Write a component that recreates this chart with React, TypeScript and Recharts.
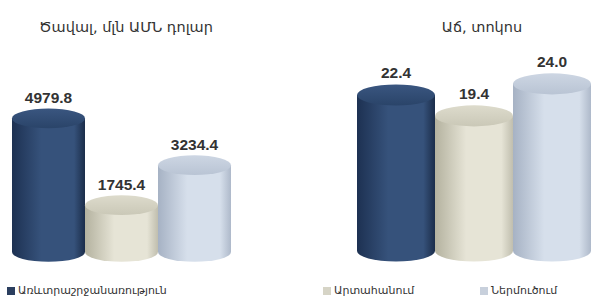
import React from 'react';
import { BarChart, Bar, XAxis, YAxis, LabelList } from 'recharts';

const seriesNames = ['Առևտրաշրջանառություն', 'Արտահանում', 'Ներմուծում'];
const seriesKeys = ['trade', 'export', 'import'];
const volumeValues = [4979.8, 1745.4, 3234.4];
const growthValues = [22.4, 19.4, 24.0];
const chartTitles = ['Ծավալ, մլն ԱՄՆ դոլար', 'Աճ, տոկոս'];

const palettes = [
  { edgeL: '#1d3152', mid: '#36527b', edgeR: '#1b2d4a', top: '#2a4469', topHi: '#3a5680', legend: '#2b3f5f' },
  { edgeL: '#b4b29f', mid: '#e6e4d6', edgeR: '#c0beae', top: '#cac8b7', topHi: '#dddbcc', legend: '#d6d4c6' },
  { edgeL: '#a6b2c4', mid: '#d6dfeb', edgeR: '#aeb9ca', top: '#b9c4d4', topHi: '#cdd6e3', legend: '#c8d0dc' },
];

const buildRow = (vals: number[]) => {
  const row: Record<string, any> = { name: 'x' };
  seriesKeys.forEach((k, i) => (row[k] = vals[i]));
  return row;
};
const volumeData = [buildRow(volumeValues)];
const growthData = [buildRow(growthValues)];

const FONT_ARM = '"DejaVu Sans", sans-serif';

const makeCylinder = (idx: number, uid: string) => (props: any) => {
  const { x, y, width, height } = props;
  if (width == null || height == null) return null;
  const p = palettes[idx];
  const ry = width * 0.135;
  const cx = x + width / 2;
  const gid = `body-${uid}-${idx}`;
  const tid = `top-${uid}-${idx}`;
  return (
    <g>
      <defs>
        <linearGradient id={gid} x1="0" y1="0" x2="1" y2="0">
          <stop offset="0%" stopColor={p.edgeL} />
          <stop offset="40%" stopColor={p.mid} />
          <stop offset="85%" stopColor={p.mid} />
          <stop offset="100%" stopColor={p.edgeR} />
        </linearGradient>
        <linearGradient id={tid} x1="0" y1="0" x2="0" y2="1">
          <stop offset="0%" stopColor={p.topHi} />
          <stop offset="100%" stopColor={p.top} />
        </linearGradient>
      </defs>
      <path
        d={`M${x},${y} L${x},${y + height} A${width / 2},${ry} 0 0 0 ${x + width},${y + height} L${x + width},${y} Z`}
        fill={`url(#${gid})`}
      />
      <ellipse cx={cx} cy={y} rx={width / 2} ry={ry} fill={`url(#${tid})`} />
    </g>
  );
};

const makeLabel = (offset: number) => (props: any) => {
  const { x, y, width, value } = props;
  return (
    <text
      x={x + width / 2}
      y={y - offset}
      textAnchor="middle"
      fill="#333"
      fontSize={15.5}
      fontWeight="bold"
      fontFamily='"Liberation Sans", Arial, sans-serif'
    >
      {Number(value).toFixed(1)}
    </text>
  );
};

const Title = ({ text, cx }: { text: string; cx: number }) => (
  <div
    style={{
      position: 'absolute',
      left: cx - 150,
      width: 300,
      top: 19,
      textAlign: 'center',
      fontFamily: FONT_ARM,
      fontSize: 14.5,
      color: '#333',
      whiteSpace: 'nowrap',
    }}
  >
    {text}
  </div>
);

const legendX = [7, 323, 480];

export default function App() {
  return (
    <div style={{ position: 'absolute', left: 0, top: 0, width: 608, height: 303, background: '#fff', overflow: 'hidden' }}>
      <Title text={chartTitles[0]} cx={126} />
      <Title text={chartTitles[1]} cx={482} />
      <div style={{ position: 'absolute', left: 0, top: 0 }}>
        <BarChart
          width={304}
          height={303}
          data={volumeData}
          margin={{ top: 91, right: 74, bottom: 51, left: 12 }}
          barCategoryGap={0}
          barGap={0}
        >
          <XAxis dataKey="name" hide />
          <YAxis hide domain={[0, 6000]} />
          {seriesKeys.map((k, i) => (
            <Bar key={k} dataKey={k} name={seriesNames[i]} isAnimationActive={false} shape={makeCylinder(i, 'v')}>
              <LabelList dataKey={k} content={makeLabel(15)} />
            </Bar>
          ))}
        </BarChart>
      </div>
      <div style={{ position: 'absolute', left: 304, top: 0 }}>
        <BarChart
          width={304}
          height={303}
          data={growthData}
          margin={{ top: 56, right: 16, bottom: 52, left: 53 }}
          barCategoryGap={0}
          barGap={0}
        >
          <XAxis dataKey="name" hide />
          <YAxis hide domain={[0, 28]} />
          {seriesKeys.map((k, i) => (
            <Bar key={k} dataKey={k} name={seriesNames[i]} isAnimationActive={false} shape={makeCylinder(i, 'g')}>
              <LabelList dataKey={k} content={makeLabel(17)} />
            </Bar>
          ))}
        </BarChart>
      </div>
      {seriesNames.map((n, i) => (
        <div
          key={n}
          style={{
            position: 'absolute',
            left: legendX[i],
            top: 284,
            display: 'flex',
            alignItems: 'center',
            fontFamily: FONT_ARM,
            fontSize: 11,
            color: '#333',
            whiteSpace: 'nowrap',
          }}
        >
          <span style={{ display: 'inline-block', width: 8, height: 8, background: palettes[i].legend, marginRight: 3 }} />
          {n}
        </div>
      ))}
    </div>
  );
}
